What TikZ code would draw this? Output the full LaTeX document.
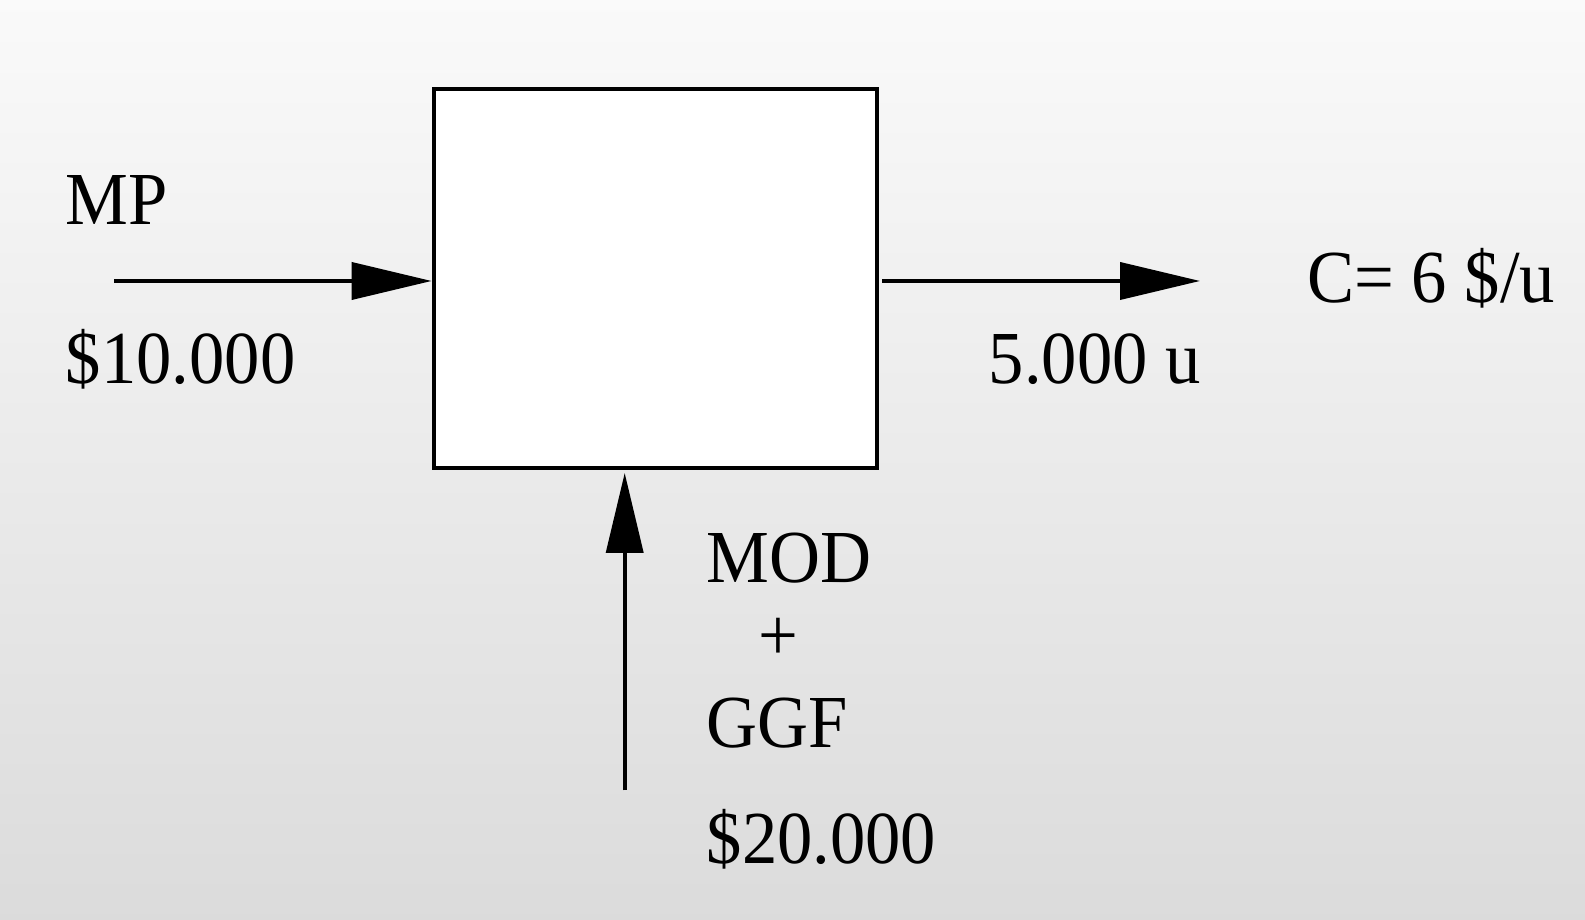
\documentclass[tikz,border=0pt]{standalone}
\usepackage{fontspec}
\usepackage{graphicx}
\setmainfont{Liberation Serif}
\usetikzlibrary{arrows.meta}
\tikzset{
  lbl/.style={anchor=base west, inner sep=0pt, font=\fontsize{70.6}{86}\selectfont},
  block/.style={draw, line width=4pt, fill=white, minimum width=443.8pt, minimum height=379pt, inner sep=0pt},
  flow/.style={line width=3.8pt, -{Triangle[length=80pt,width=37pt]}}
}
\newcommand{\tallt}[1]{\scalebox{1}[1.06]{#1}}
\begin{document}
\begin{tikzpicture}[x=1pt,y=1pt]
\useasboundingbox (0,0) rectangle (1585,920);
\shade[top color=black!2, bottom color=black!14] (0,0) rectangle (1585,920);
\node[block] (box) at (655.5,641.5) {};
\coordinate (inL) at (114,639);
\coordinate (outR) at (1200,639);
\coordinate (inB) at (624.7,129.5);
\draw[flow] (inL) -- (inL -| box.west);
\draw[flow, shorten <=3pt] (outR -| box.east) -- (outR);
\draw[flow, shorten >=3pt] (inB) -- (inB |- box.south);
\node[lbl] (mp) at (65.7,695.6) {\tallt{MP}};
\node[lbl] (mpv) at (65.7,536) {\tallt{\$10.000}};
\node[lbl] (out) at (988.6,536) {\tallt{5.000 u}};
\node[lbl] (cost) at (1307,617) {\tallt{C= 6 \$/u}};
\node[lbl] (mod) at (706.5,337) {\tallt{MOD}};
\node[lbl, anchor=base] (plus) at (778,259) {\tallt{+}};
\node[lbl] (ggf) at (706.5,172) {\tallt{GGF}};
\node[lbl] (modv) at (706.5,56) {\tallt{\$20.000}};
\end{tikzpicture}
\end{document}
